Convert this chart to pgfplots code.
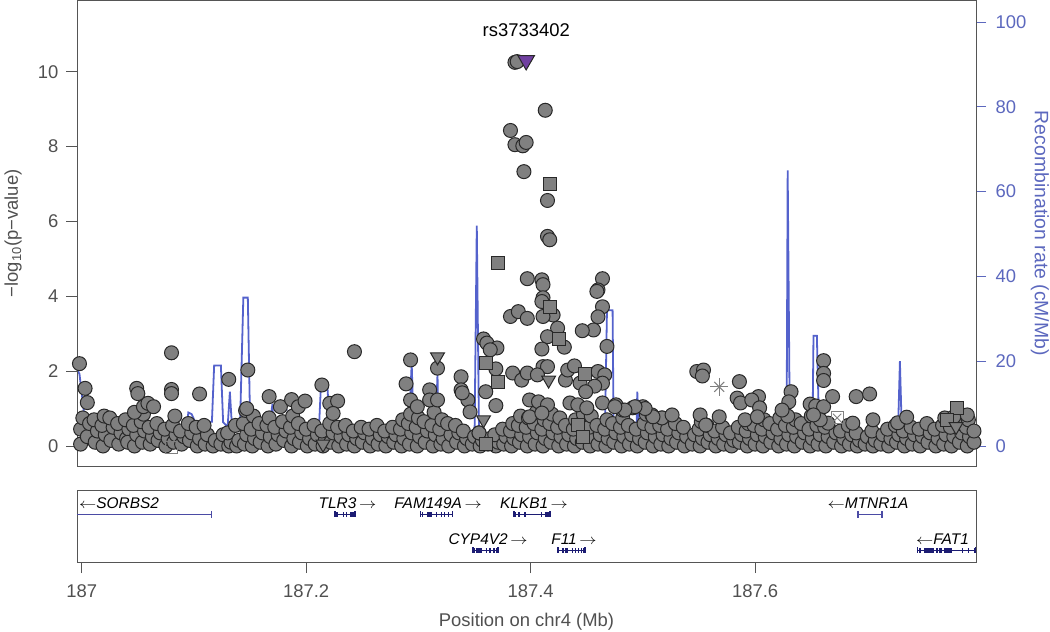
\documentclass[border=0pt]{standalone}
\usepackage{pgfplots}
\pgfplotsset{compat=1.18}
\usepackage{pgfplotstable}
\usepackage{fontspec}
\setmainfont{Liberation Sans}
\definecolor{txtgray}{RGB}{80,80,80}
\definecolor{axgray}{RGB}{85,85,85}
\definecolor{recblue}{RGB}{84,98,204}
\definecolor{rectext}{RGB}{92,104,190}
\definecolor{ptfill}{RGB}{128,128,128}
\definecolor{ptedge}{RGB}{40,40,40}
\definecolor{topsnp}{RGB}{112,64,160}
\definecolor{genenavy}{RGB}{28,28,115}
\definecolor{genelight}{RGB}{75,75,165}
\newcommand\ticksize{\fontsize{18.5}{21}\selectfont}
\newcommand\genefont{\fontsize{15.5}{17}\selectfont\itshape}
\newcommand\la{\scalebox{1.2}[1]{$\leftarrow$}}
\newcommand\ra{\,\scalebox{1.2}[1]{$\rightarrow$}}

\pgfplotstableread[row sep=\\]{x y\\
186.999 0.05\\186.999 0.45\\187.001 0.75\\
187.005 0.25\\187.007 0.6\\
187.012 0.1\\187.014 0.4\\187.011 0.7\\
187.019 0.0\\187.021 0.3\\187.018 0.55\\187.020 0.8\\
187.026 0.15\\187.028 0.5\\187.025 0.75\\
187.033 0.05\\187.035 0.35\\187.032 0.6\\
187.040 0.2\\187.042 0.45\\187.039 0.7\\187.041 0.1\\
187.047 0.0\\187.049 0.3\\187.046 0.55\\
187.054 0.1\\187.056 0.4\\187.053 0.65\\187.055 0.85\\
187.061 0.05\\187.063 0.25\\187.060 0.5\\
187.068 0.15\\187.070 0.35\\187.067 0.6\\
187.075 0.0\\187.077 0.2\\187.074 0.45\\
187.082 0.1\\187.084 0.3\\187.081 0.55\\187.083 0.8\\
187.089 0.05\\187.091 0.25\\187.088 0.4\\
187.096 0.15\\187.098 0.35\\187.095 0.6\\
187.103 0.0\\187.105 0.2\\187.102 0.5\\
187.110 0.05\\187.112 0.3\\187.109 0.55\\
187.117 0.0\\187.119 0.15\\
187.124 0.05\\187.126 0.3\\
187.131 0.0\\187.133 0.1\\187.130 0.35\\
187.138 0.0\\187.140 0.15\\187.137 0.55\\
187.145 0.05\\187.147 0.3\\187.144 0.6\\187.146 0.95\\
187.152 0.0\\187.154 0.2\\187.151 0.45\\187.153 0.8\\
187.159 0.1\\187.161 0.35\\187.158 0.6\\
187.166 0.0\\187.168 0.25\\187.165 0.55\\187.167 0.75\\
187.173 0.05\\187.175 0.3\\187.172 0.5\\
187.180 0.15\\187.182 0.4\\187.179 0.65\\
187.187 0.0\\187.189 0.2\\187.186 0.5\\187.188 0.8\\
187.194 0.1\\187.196 0.35\\187.193 0.6\\
187.201 0.0\\187.203 0.2\\187.200 0.45\\
187.208 0.05\\187.210 0.3\\187.207 0.55\\
187.215 0.0\\187.217 0.15\\187.214 0.4\\
187.222 0.1\\187.224 0.35\\187.221 0.6\\
187.229 0.0\\187.231 0.25\\187.228 0.5\\
187.236 0.05\\187.238 0.3\\187.235 0.55\\
187.243 0.0\\187.245 0.2\\187.242 0.4\\
187.250 0.1\\187.252 0.35\\187.249 0.5\\
187.257 0.0\\187.259 0.2\\187.256 0.45\\
187.264 0.05\\187.266 0.3\\187.263 0.55\\
187.271 0.0\\187.273 0.25\\187.270 0.4\\
187.278 0.1\\187.280 0.3\\187.277 0.5\\
187.285 0.0\\187.287 0.2\\187.284 0.45\\187.286 0.7\\
187.292 0.05\\187.294 0.35\\187.291 0.6\\187.293 0.85\\
187.299 0.0\\187.301 0.25\\187.298 0.5\\187.300 0.75\\
187.306 0.1\\187.308 0.4\\187.305 0.65\\
187.313 0.0\\187.315 0.3\\187.312 0.55\\187.314 0.9\\
187.320 0.05\\187.322 0.2\\187.319 0.45\\187.321 0.7\\
187.327 0.0\\187.329 0.3\\187.326 0.6\\
187.334 0.1\\187.336 0.35\\187.333 0.55\\
187.341 0.0\\187.343 0.2\\187.340 0.4\\
187.348 0.05\\187.350 0.25\\
187.355 0.0\\187.357 0.15\\187.354 0.35\\
187.362 0.05\\187.364 0.2\\
187.369 0.0\\187.371 0.1\\187.368 0.3\\
187.376 0.05\\187.378 0.25\\187.375 0.45\\
187.383 0.0\\187.385 0.2\\187.382 0.4\\187.384 0.6\\
187.390 0.1\\187.392 0.3\\187.389 0.55\\187.391 0.8\\
187.397 0.0\\187.399 0.25\\187.396 0.5\\187.398 0.75\\
187.404 0.05\\187.406 0.35\\187.403 0.6\\187.405 0.9\\
187.411 0.0\\187.413 0.2\\187.410 0.45\\187.412 0.7\\
187.418 0.1\\187.420 0.35\\187.417 0.6\\187.419 0.85\\
187.425 0.0\\187.427 0.25\\187.424 0.5\\187.426 0.75\\
187.432 0.05\\187.434 0.3\\187.431 0.55\\
187.439 0.0\\187.441 0.2\\187.438 0.45\\187.440 0.7\\
187.446 0.1\\187.448 0.35\\187.445 0.6\\187.447 0.85\\
187.453 0.0\\187.455 0.25\\187.452 0.5\\187.454 0.8\\
187.460 0.05\\187.462 0.3\\187.459 0.55\\
187.467 0.0\\187.469 0.2\\187.466 0.45\\187.468 0.7\\
187.474 0.1\\187.476 0.35\\187.473 0.6\\
187.481 0.0\\187.483 0.25\\187.480 0.5\\187.482 0.75\\
187.488 0.05\\187.490 0.3\\187.487 0.55\\
187.495 0.0\\187.497 0.2\\187.494 0.45\\
187.502 0.1\\187.504 0.35\\187.501 0.6\\187.503 0.85\\
187.509 0.0\\187.511 0.25\\187.508 0.5\\
187.516 0.05\\187.518 0.3\\187.515 0.55\\187.517 0.75\\
187.523 0.0\\187.525 0.2\\187.522 0.45\\
187.530 0.1\\187.532 0.35\\187.529 0.6\\
187.537 0.0\\187.539 0.25\\187.536 0.5\\
187.544 0.05\\187.546 0.3\\
187.551 0.0\\187.553 0.2\\187.550 0.45\\187.552 0.65\\
187.558 0.1\\187.560 0.3\\187.557 0.55\\
187.565 0.0\\187.567 0.2\\187.564 0.4\\
187.572 0.05\\187.574 0.3\\187.571 0.5\\
187.579 0.0\\187.581 0.15\\187.578 0.35\\
187.586 0.1\\187.588 0.3\\187.585 0.5\\
187.593 0.0\\187.595 0.2\\187.592 0.4\\187.594 0.6\\
187.600 0.05\\187.602 0.3\\187.599 0.55\\
187.607 0.0\\187.609 0.25\\187.606 0.45\\187.608 0.7\\
187.614 0.1\\187.616 0.35\\187.613 0.6\\
187.621 0.0\\187.623 0.2\\187.620 0.45\\187.622 0.75\\
187.628 0.05\\187.630 0.3\\187.627 0.55\\
187.635 0.0\\187.637 0.25\\187.634 0.5\\187.636 0.7\\
187.642 0.1\\187.644 0.35\\187.641 0.6\\
187.649 0.0\\187.651 0.2\\187.648 0.45\\187.650 0.8\\
187.656 0.05\\187.658 0.3\\187.655 0.55\\
187.663 0.0\\187.665 0.25\\187.662 0.5\\
187.670 0.1\\187.672 0.35\\
187.677 0.0\\187.679 0.2\\187.676 0.4\\
187.684 0.05\\187.686 0.3\\187.683 0.55\\
187.691 0.0\\187.693 0.15\\187.690 0.35\\
187.698 0.05\\187.700 0.25\\
187.705 0.0\\187.707 0.15\\187.704 0.4\\
187.712 0.05\\187.714 0.3\\
187.719 0.0\\187.721 0.2\\187.718 0.45\\
187.726 0.1\\187.728 0.3\\187.725 0.55\\
187.733 0.0\\187.735 0.2\\187.732 0.4\\
187.740 0.05\\187.742 0.3\\187.739 0.5\\
187.747 0.0\\187.749 0.25\\187.746 0.45\\
187.754 0.1\\187.756 0.35\\187.753 0.6\\
187.761 0.0\\187.763 0.2\\187.760 0.45\\
187.768 0.05\\187.770 0.3\\187.767 0.55\\187.769 0.75\\
187.775 0.0\\187.777 0.25\\187.774 0.5\\
187.782 0.1\\187.784 0.35\\187.781 0.6\\
187.789 0.0\\187.791 0.25\\187.788 0.5\\187.790 0.7\\
187.795 0.1\\187.795 0.4\\
}\bandpts

\pgfplotstableread[row sep=\\]{x y\\
186.998 2.20\\187.003 1.54\\187.005 1.16\\187.049 1.54\\187.050 1.40\\187.047 0.90\\
187.055 1.05\\187.059 1.14\\187.064 1.05\\187.080 2.49\\187.080 1.51\\187.080 1.40\\
187.105 1.39\\187.131 1.78\\187.148 2.03\\187.147 1.00\\187.167 1.32\\187.177 1.05\\
187.187 1.24\\187.193 1.05\\187.199 1.20\\187.214 1.63\\187.221 1.14\\187.228 1.20\\
187.224 0.87\\187.243 2.52\\187.293 2.30\\187.289 1.66\\187.293 1.23\\187.299 1.05\\
187.317 2.08\\187.310 1.50\\187.310 1.23\\187.317 1.23\\187.338 1.85\\187.338 1.50\\
187.344 1.23\\187.346 0.91\\187.339 1.42\\187.397 4.47\\187.410 4.44\\187.411 4.31\\
187.411 3.96\\187.410 3.86\\187.420 3.50\\187.411 3.46\\187.382 3.46\\187.389 3.59\\
187.397 3.41\\187.464 4.47\\187.460 4.17\\187.459 4.13\\187.464 3.72\\187.460 3.45\\
187.456 3.10\\187.446 3.08\\187.424 3.15\\187.415 2.92\\187.430 2.64\\187.410 2.59\\
187.468 2.66\\187.358 2.86\\187.361 2.75\\187.370 2.62\\187.364 2.57\\187.369 2.06\\
187.360 1.45\\187.369 1.08\\187.354 0.35\\187.384 1.95\\187.392 1.76\\187.397 1.95\\
187.411 2.12\\187.415 2.12\\187.406 1.90\\187.431 1.76\\187.433 2.03\\187.439 2.14\\
187.444 1.68\\187.460 1.99\\187.466 1.90\\187.464 1.68\\187.457 1.60\\187.449 1.45\\
187.399 1.23\\187.407 1.18\\187.415 1.10\\187.399 0.78\\187.410 0.88\\187.435 1.15\\
187.442 1.10\\187.450 1.02\\187.464 1.15\\187.476 1.10\\187.482 0.96\\187.491 1.02\\
187.500 1.05\\187.508 0.83\\187.517 0.75\\187.548 1.99\\187.554 2.03\\187.553 1.87\\
187.586 1.72\\187.584 1.28\\187.587 1.15\\187.591 0.70\\187.603 1.32\\187.597 1.23\\
187.604 1.02\\187.602 0.78\\187.632 1.45\\187.630 1.18\\187.629 0.80\\187.624 0.96\\
187.551 0.83\\187.556 0.56\\187.568 0.78\\187.526 0.83\\187.509 0.78\\187.502 1.00\\
187.493 1.05\\187.484 0.96\\187.475 1.05\\187.661 2.28\\187.661 1.94\\187.661 1.75\\
187.649 1.12\\187.654 1.07\\187.661 1.05\\187.669 1.32\\187.665 0.61\\187.658 0.70\\
187.652 0.83\\187.690 1.32\\187.702 1.39\\187.687 0.61\\187.705 0.70\\187.727 0.62\\
187.735 0.77\\187.777 0.78\\187.789 0.83\\
187.386 10.25\\187.388 10.27\\187.413 8.97\\187.382 8.43\\187.386 8.05\\187.393 8.02\\
187.396 8.11\\187.394 7.33\\187.415 6.56\\187.415 5.60\\187.417 5.51\\
}\upperpts

\pgfplotstableread[row sep=\\]{x y\\
187.371 4.89\\187.417 3.71\\187.425 2.85\\187.360 2.22\\187.371 1.72\\187.360 0.05\\
187.448 1.93\\187.417 7.00\\187.780 1.01\\187.771 0.70\\187.442 0.56\\187.447 0.24\\
}\squarepts

\pgfplotstableread[row sep=\\]{x y\\
187.317 2.38\\187.358 0.70\\187.416 1.76\\187.779 0.52\\187.215 0.05\\
}\trianglepts

\pgfplotstableread[row sep=\\]{x r\\
186.996 18\\186.998 17\\187.002 8\\187.006 1.5\\187.012 0.6\\187.092 0.6\\
187.095 7.9\\187.098 7.5\\187.101 5.7\\187.116 5.7\\187.118 19\\187.124 19\\
187.126 5.6\\187.130 4.5\\187.132 12.8\\187.134 4\\187.141 4.5\\187.144 35\\
187.148 35\\187.150 6\\187.168 6\\187.170 10\\187.171 3\\187.181 3\\
187.183 7\\187.185 2\\187.211 2\\187.213 13.5\\187.219 13.5\\187.222 1\\
187.291 1\\187.294 19.5\\187.296 1.5\\187.315 1.5\\187.317 17\\187.318 1.5\\
187.346 1.5\\187.350 2.5\\187.352 52\\187.354 3\\187.357 1\\187.466 1\\
187.468 32\\187.473 32\\187.474 2\\187.490 2\\187.494 0.5\\187.495 12.8\\
187.497 0.5\\187.591 0.3\\187.597 4\\187.605 1\\187.628 1\\187.629 65\\
187.631 1\\187.651 1\\187.652 26\\187.655 26\\187.657 4\\187.662 4\\
187.665 0.5\\187.727 0.5\\187.729 20\\187.731 0.5\\187.797 0.3\\
}\recomb

\begin{document}
\begin{tikzpicture}
\path[use as bounding box] (0,0) rectangle (1050bp,632bp);

% recombination rate (right axis), drawn first so points lie over it
\begin{axis}[
  at={(77bp,165.3bp)}, anchor=south west, scale only axis,
  width=899bp, height=466.7bp,
  xmin=186.9958, xmax=187.7968, ymin=-4.878, ymax=105.19,
  axis x line=none, axis y line*=right,
  y axis line style={-, draw=axgray, line width=0.9bp},
  ytick={0,20,40,60,80,100},
  tick align=outside, major tick length=10bp,
  ytick style={rectext, line width=0.9bp},
  yticklabel style={rectext, font=\ticksize, xshift=6bp},
  /pgf/number format/assume math mode=true,
  ylabel={Recombination rate (cM/Mb)},
  ylabel style={rectext, font=\fontsize{19.5}{22}\selectfont, rotate=180,
    at={(axis description cs:1.0712,0.5)}, anchor=center},
]
\addplot[recblue, line width=1.8bp, no marks] table[x=x, y=r] {\recomb};
\end{axis}

% association points (left axis)
\begin{axis}[
  at={(77bp,165.3bp)}, anchor=south west, scale only axis,
  width=899bp, height=466.7bp,
  xmin=186.9958, xmax=187.7968, ymin=-0.553, ymax=11.916,
  axis line style={draw=axgray, line width=0.9bp},
  xtick=\empty, ytick={0,2,4,6,8,10}, ytick pos=left,
  tick align=outside, major tick length=11bp,
  ytick style={axgray, line width=0.9bp},
  yticklabel style={txtgray, font=\ticksize, xshift=-4bp},
  /pgf/number format/assume math mode=true,
  ylabel={−log\textsubscript{10}(p−value)},
  ylabel style={txtgray, font=\ticksize,
    at={(axis description cs:-0.0710,0.5)}, anchor=center},
]
\addplot[only marks, mark=*, mark size=7bp,
  mark options={fill=ptfill, draw=ptedge, line width=1bp}] table {\bandpts};
\addplot[only marks, mark=*, mark size=7bp,
  mark options={fill=ptfill, draw=ptedge, line width=1bp}] table {\upperpts};
\addplot[only marks, mark=square*, mark size=6.5bp,
  mark options={fill=ptfill, draw=ptedge, line width=1bp}] table {\squarepts};
\addplot[only marks, mark=triangle*, mark size=8bp,
  mark options={rotate=180, fill=ptfill, draw=ptedge, line width=1bp}] table {\trianglepts};
\addplot[only marks, mark=+, mark size=9bp, mark options={ptfill, line width=1bp}]
  coordinates {(187.568,1.58)};
\addplot[only marks, mark=x, mark size=7bp, mark options={ptfill, line width=1bp}]
  coordinates {(187.568,1.58)};
\addplot[only marks, mark=square, mark size=6bp, mark options={ptfill, line width=0.9bp}]
  coordinates {(187.673,0.75) (187.080,-0.05)};
\addplot[only marks, mark=x, mark size=6bp, mark options={ptfill, line width=0.9bp}]
  coordinates {(187.673,0.75)};
\addplot[only marks, mark=triangle*, mark size=9.5bp,
  mark options={rotate=180, fill=topsnp, draw=ptedge, line width=1bp}]
  coordinates {(187.396,10.30)};
\node[font=\ticksize, black] at (axis cs:187.3961,11.11) {rs3733402};
\end{axis}

% gene panel
\begin{axis}[
  at={(77bp,70bp)}, anchor=south west, scale only axis,
  width=899bp, height=72bp,
  xmin=186.9958, xmax=187.7968, ymin=0, ymax=1,
  clip=false,
  axis line style={draw=axgray, line width=0.9bp},
  ytick=\empty, xtick={187,187.2,187.4,187.6}, xtick pos=bottom,
  xticklabels={187,187.2,187.4,187.6},
  tick align=outside, major tick length=11bp,
  xtick style={axgray, line width=0.9bp},
  xticklabel style={txtgray, font=\ticksize, yshift=-8bp},
  xlabel={Position on chr4 (Mb)},
  xlabel style={txtgray, font=\ticksize,
    at={(axis description cs:0.5,-0.83)}, anchor=center},
  unbounded coords=jump,
]
% SORBS2
\addplot[genelight, line width=1.2bp, no marks] coordinates {(186.9958,0.6625) (187.1153,0.6625)};
\addplot[genelight, only marks, mark=|, mark size=3.5bp, mark options={line width=1.2bp}] coordinates {(187.1153,0.6625)};
% MTNR1A
\addplot[genelight, line width=1.2bp, mark=|, mark size=3.5bp] coordinates {(187.6917,0.6625) (187.7131,0.6625)};
% gene bodies (navy)
\addplot[genenavy, line width=1.2bp, mark=|, mark size=3bp] coordinates {
 (187.2257,0.6625) (187.2435,0.6625) (187.2435,nan)
 (187.3020,0.6625) (187.3302,0.6625) (187.3302,nan)
 (187.3852,0.6625) (187.4173,0.6625) (187.4173,nan)
 (187.3487,0.1625) (187.3709,0.1625) (187.3709,nan)
 (187.4244,0.1625) (187.4484,0.1625) (187.4484,nan)
 (187.7449,0.1625) (187.7966,0.1625)};
% exons
\addplot[genenavy, line width=5bp, no marks] coordinates {
 (187.2266,0.6625) (187.2280,0.6625) (187.2280,nan)
 (187.2326,0.6625) (187.2337,0.6625) (187.2337,nan)
 (187.2353,0.6625) (187.2364,0.6625) (187.2364,nan)
 (187.2391,0.6625) (187.2435,0.6625) (187.2435,nan)
 (187.3030,0.6625) (187.3045,0.6625) (187.3045,nan)
 (187.3077,0.6625) (187.3100,0.6625) (187.3100,nan)
 (187.3105,0.6625) (187.3125,0.6625) (187.3125,nan)
 (187.3155,0.6625) (187.3165,0.6625) (187.3165,nan)
 (187.3200,0.6625) (187.3212,0.6625) (187.3212,nan)
 (187.3230,0.6625) (187.3240,0.6625) (187.3240,nan)
 (187.3262,0.6625) (187.3272,0.6625) (187.3272,nan)
 (187.3855,0.6625) (187.3866,0.6625) (187.3866,nan)
 (187.3885,0.6625) (187.3905,0.6625) (187.3905,nan)
 (187.3945,0.6625) (187.3955,0.6625) (187.3955,nan)
 (187.4088,0.6625) (187.4098,0.6625) (187.4098,nan)
 (187.4125,0.6625) (187.4145,0.6625) (187.4145,nan)
 (187.4150,0.6625) (187.4170,0.6625) (187.4170,nan)
 (187.3492,0.1625) (187.3505,0.1625) (187.3505,nan)
 (187.3510,0.1625) (187.3567,0.1625) (187.3567,nan)
 (187.3598,0.1625) (187.3608,0.1625) (187.3608,nan)
 (187.3633,0.1625) (187.3643,0.1625) (187.3643,nan)
 (187.3668,0.1625) (187.3678,0.1625) (187.3678,nan)
 (187.3695,0.1625) (187.3705,0.1625) (187.3705,nan)
 (187.4278,0.1625) (187.4300,0.1625) (187.4300,nan)
 (187.4310,0.1625) (187.4335,0.1625) (187.4335,nan)
 (187.4365,0.1625) (187.4375,0.1625) (187.4375,nan)
 (187.4395,0.1625) (187.4405,0.1625) (187.4405,nan)
 (187.4425,0.1625) (187.4433,0.1625) (187.4433,nan)
 (187.4450,0.1625) (187.4460,0.1625) (187.4460,nan)
 (187.4470,0.1625) (187.4480,0.1625) (187.4480,nan)
 (187.7460,0.1625) (187.7475,0.1625) (187.7475,nan)
 (187.7505,0.1625) (187.7594,0.1625) (187.7594,nan)
 (187.7610,0.1625) (187.7625,0.1625) (187.7625,nan)
 (187.7635,0.1625) (187.7666,0.1625) (187.7666,nan)
 (187.7684,0.1625) (187.7755,0.1625) (187.7755,nan)
 (187.7842,0.1625) (187.7850,0.1625) (187.7850,nan)
 (187.7895,0.1625) (187.7903,0.1625) (187.7903,nan)
 (187.7950,0.1625) (187.7960,0.1625)};
\node[font=\genefont, anchor=west, inner sep=0pt] at (axis cs:186.9975,0.82) {\la SORBS2};
\node[font=\genefont] at (axis cs:187.2368,0.82) {TLR3\ra};
\node[font=\genefont] at (axis cs:187.3175,0.82) {FAM149A\ra};
\node[font=\genefont] at (axis cs:187.4030,0.82) {KLKB1\ra};
\node[font=\genefont] at (axis cs:187.7006,0.82) {\la MTNR1A};
\node[font=\genefont] at (axis cs:187.3620,0.315) {CYP4V2\ra};
\node[font=\genefont] at (axis cs:187.4386,0.315) {F11\ra};
\node[font=\genefont] at (axis cs:187.7670,0.315) {\la FAT1};
\end{axis}
\end{tikzpicture}
\end{document}
